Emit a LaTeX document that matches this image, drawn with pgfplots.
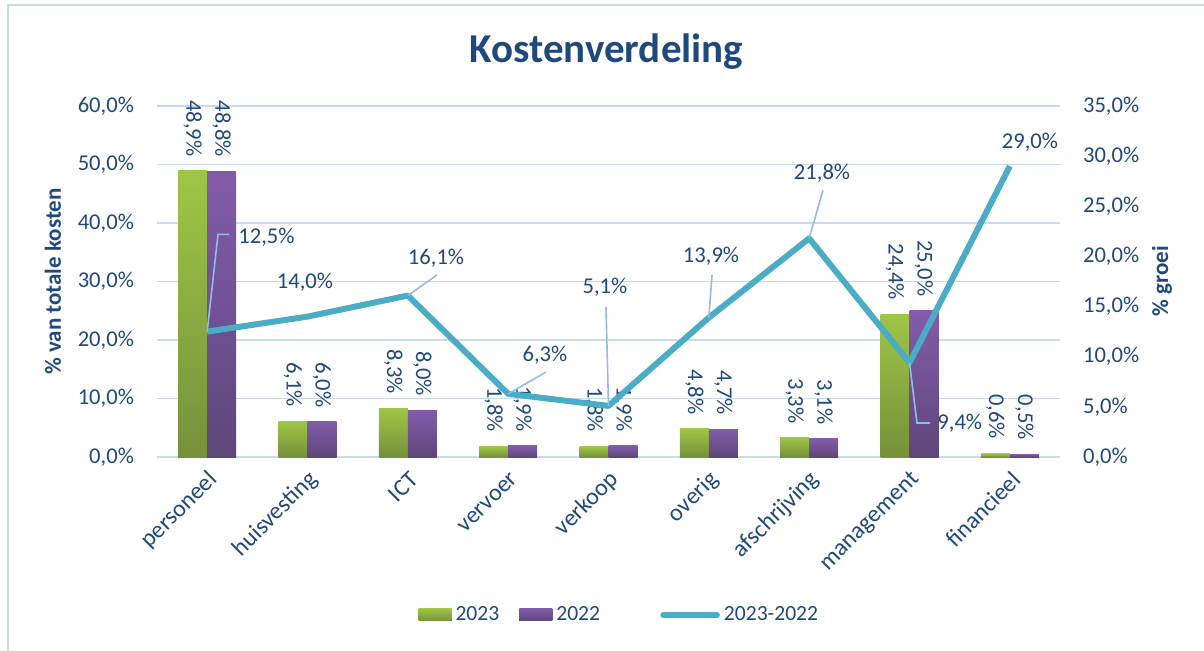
\documentclass[border=0pt]{standalone}
\usepackage{fontspec}
\setmainfont{Carlito}
\usepackage{pgfplots}
\usepackage{pgfplotstable}
\pgfplotsset{compat=1.18}

\definecolor{txtblue}{RGB}{31,73,125}
\definecolor{gridblue}{RGB}{200,218,240}
\definecolor{greenT}{RGB}{158,198,70}
\definecolor{greenB}{RGB}{117,145,58}
\definecolor{purpT}{RGB}{131,91,170}
\definecolor{purpB}{RGB}{93,71,121}
\definecolor{lijn}{RGB}{75,172,198}
\definecolor{leader}{RGB}{150,186,230}

% categorie, 2023, 2022 (% van totale kosten), groei 2023-2022
\pgfplotstableread{
x  y23  y22  gr
0  48.9 48.8 12.5
1  6.1  6.0  14.0
2  8.3  8.0  16.1
3  1.8  1.9  6.3
4  1.8  1.9  5.1
5  4.8  4.7  13.9
6  3.3  3.1  21.8
7  24.4 25.0 9.4
8  0.6  0.5  29.0
}\kosten

\tikzset{
  lbl/.style={font=\fontsize{11.3}{13}\selectfont, text=txtblue, inner sep=0pt},
  ldr/.style={leader, line width=0.8pt},
}
\pgfplotsset{
  /pgf/number format/assume math mode=true,
  basis/.style={
    at={(0pt,0pt)}, anchor=south west,
    scale only axis, width=451.5pt, height=175.5pt,
    xmin=-0.5, xmax=8.5, enlargelimits=false,
    axis line style={draw=none}, major tick length=0pt,
    tick label style={font=\fontsize{11.3}{13}\selectfont, text=txtblue},
    label style={font=\bfseries\fontsize{11.5}{13}\selectfont, text=txtblue},
  },
}
\newcommand{\pct}[1]{\pgfmathprintnumber[fixed,fixed zerofill,precision=1,use comma]{#1}\%}

\begin{document}
\begin{tikzpicture}
\useasboundingbox (-78.5pt,-96.5pt) rectangle (523.5pt,228.5pt);
\draw[gridblue, line width=1pt] (-74.5pt,-120pt) rectangle (540pt,226pt);

\node[anchor=base, font=\bfseries\fontsize{20.5}{24}\selectfont, text=txtblue] at (224.75pt,197.5pt) {Kostenverdeling};

\begin{axis}[
  basis,
  ymin=0, ymax=60,
  ytick={0,10,...,60},
  yticklabel={\pct{\tick}},
  yticklabel style={anchor=east, xshift=-8pt},
  xtick={0,...,8},
  xticklabels={personeel,huisvesting,ICT,vervoer,verkoop,overig,afschrijving,management,financieel},
  xticklabel style={rotate=45, anchor=east, font=\fontsize{12}{14}\selectfont, yshift=-9pt, xshift=-1pt},
  ymajorgrids, grid style={gridblue, line width=0.8pt},
  ylabel={\% van totale kosten},
  ylabel style={at={(axis description cs:-0.1152,0.5)}, anchor=center},
  ybar, bar width=14.5pt,
  nodes near coords={\pct{\pgfplotspointmeta}},
  every node near coord/.append style={rotate=-90, anchor=east, inner sep=7pt,
    font=\fontsize{11.3}{13}\selectfont, text=txtblue},
]
% elke staaf apart, zodat de kleurverloop per staaf loopt
\pgfplotsinvokeforeach{0,...,8}{
  \addplot[draw=none, top color=greenT, bottom color=greenB, bar shift=-7.25pt]
    table[x=x, y=y23, restrict x to domain=#1:#1] {\kosten};
  \addplot[draw=none, top color=purpT, bottom color=purpB, bar shift=7.25pt]
    table[x=x, y=y22, restrict x to domain=#1:#1] {\kosten};
}
\end{axis}

\begin{axis}[
  basis,
  ymin=0, ymax=35,
  axis y line*=right, hide x axis,
  ytick={0,5,...,35},
  yticklabel={\pct{\tick}},
  yticklabel style={anchor=west, xshift=8pt},
  ylabel={\% groei},
  ylabel style={at={(axis description cs:1.113,0.5)}, anchor=center},
  clip=false,
  legend columns=3,
  legend style={at={(axis description cs:0.512,-0.45)}, anchor=center, draw=none, fill=none,
    font=\fontsize{10.8}{12}\selectfont, text=txtblue,
    nodes={inner sep=1pt},
    /tikz/every odd column/.append style={column sep=1pt},
    /tikz/every even column/.append style={column sep=9pt}},
]
\addlegendimage{draw=none, legend image code/.code={\fill[draw=none, top color=greenT, bottom color=greenB] (0pt,-3pt) rectangle (16.5pt,3pt);}}
\addlegendentry{2023}
\addlegendimage{draw=none, legend image code/.code={\fill[draw=none, top color=purpT, bottom color=purpB] (0pt,-3pt) rectangle (16.5pt,3pt);}}
\addlegendentry{2022}
\addplot[lijn, line width=3pt, line join=round, mark=none,
  legend image code/.code={\path[draw=none] (0pt,0pt) -- (20.5pt,0pt);
    \draw[lijn, line width=2.8pt, line cap=round] (21.5pt,0pt) -- (48.5pt,0pt);}]
  table[x=x, y=gr] {\kosten};
\addlegendentry{2023-2022}

% labels van de lijn met verbindingslijnen
\draw[ldr] (axis cs:0,12.5) -- (axis cs:0.108,22.2) -- (axis cs:0.218,22.2);
\draw[ldr] (axis cs:2,16.1) -- (axis cs:2.29,18.15);
\draw[ldr] (axis cs:3,6.3) -- (axis cs:3.377,8.47);
\draw[ldr] (axis cs:4,5.1) -- (axis cs:3.975,14.96);
\draw[ldr] (axis cs:5,13.9) -- (axis cs:5.032,18.15);
\draw[ldr] (axis cs:6,21.8) -- (axis cs:6.138,26.6);
\draw[ldr] (axis cs:7,9.4) -- (axis cs:7.075,3.39) -- (axis cs:7.205,3.39);

\node[lbl, anchor=west] at (axis cs:0.307,21.9) {12,5\%};
\node[lbl] at (axis cs:0.975,17.45) {14,0\%};
\node[lbl] at (axis cs:2.281,19.84) {16,1\%};
\node[lbl] at (axis cs:3.367,10.17) {6,3\%};
\node[lbl] at (axis cs:3.965,16.95) {5,1\%};
\node[lbl] at (axis cs:5.022,20.04) {13,9\%};
\node[lbl] at (axis cs:6.128,28.3) {21,8\%};
\node[lbl, anchor=west] at (axis cs:7.274,3.39) {9,4\%};
\node[lbl] at (axis cs:8.201,31.4) {29,0\%};
\end{axis}
\end{tikzpicture}
\end{document}
